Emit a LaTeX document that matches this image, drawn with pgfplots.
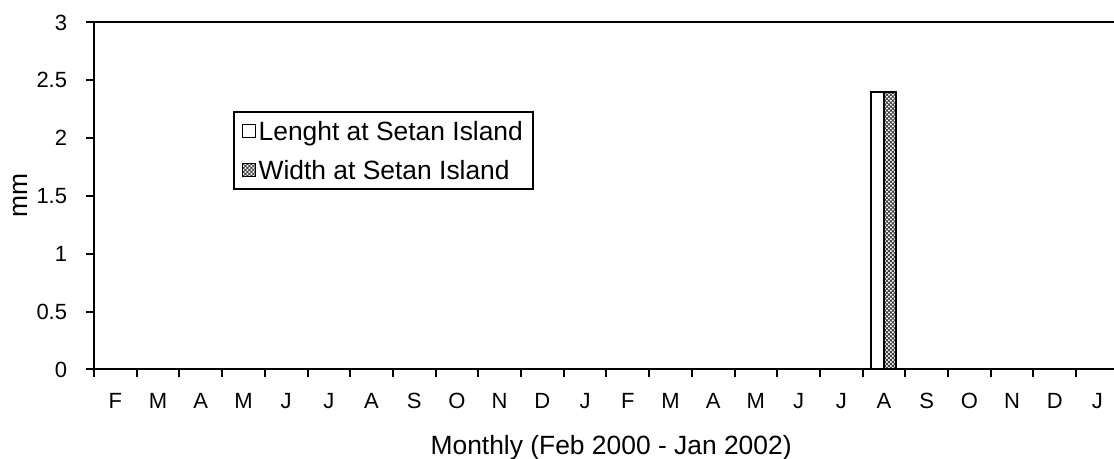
\documentclass[border=0pt]{standalone}
\usepackage{fontspec}
\setmainfont{Liberation Sans}
\usepackage{pgfplots}
\pgfplotsset{compat=1.18}
\usetikzlibrary{patterns.meta}
\newcommand{\ff}{\fontsize{11pt}{13pt}\selectfont}
\newcommand{\fb}{\fontsize{13.2pt}{15.5pt}\selectfont}
\begin{document}
\begin{tikzpicture}
\begin{axis}[
  at={(0pt,0pt)}, anchor=south west,
  scale only axis,
  width=511pt, height=173.5pt,
  xmin=-0.5, xmax=23.434,
  ymin=0, ymax=3,
  axis line style={line width=1pt},
  ybar=0pt, bar width=6.25pt,
  xtick={0,...,23},
  xticklabels={F,M,A,M,J,J,A,S,O,N,D,J,F,M,A,M,J,J,A,S,O,N,D,J},
  minor xtick={-0.5,0.5,...,22.5},
  major x tick style={draw=none},
  minor x tick style={line width=1pt, black},
  minor tick length=4pt,
  xtick pos=bottom,
  ytick={0,0.5,1,1.5,2,2.5,3},
  yticklabels={0,0.5,1,1.5,2,2.5,3},
  ytick pos=left,
  y tick style={line width=1pt, black},
  major tick length=4pt,
  tick align=outside,
  xticklabel style={font=\ff, anchor=center, yshift=-11.75pt},
  yticklabel style={font=\ff, anchor=east, inner sep=0pt, xshift=-9.25pt},
  xlabel={Monthly (Feb 2000 - Jan 2002)},
  ylabel={mm},
  xlabel style={font=\fb, at={(axis description cs:0.506,-0.2255)}, anchor=center},
  ylabel style={font=\fb, at={(axis description cs:-0.0724,0.5)}, anchor=center},
  legend style={
    at={(axis description cs:0.136,0.745)}, anchor=north west,
    draw=black, line width=1pt, font=\fb,
    inner xsep=4pt, inner ysep=3.5pt, row sep=7.5pt,
    nodes={inner xsep=1.25pt, inner ysep=0pt, text height=10.65pt, text depth=1.35pt},
    cells={anchor=west},
  },
  legend image code/.code={\draw[#1, line width=0.6pt] (1pt,-3.25pt) rectangle (7.5pt,3.25pt);},
]
\addplot[draw=black, fill=white, line width=1pt] coordinates {
(0,0) (1,0) (2,0) (3,0) (4,0) (5,0) (6,0) (7,0) (8,0) (9,0) (10,0) (11,0)
(12,0) (13,0) (14,0) (15,0) (16,0) (17,0) (18,2.4) (19,0) (20,0) (21,0) (22,0) (23,0)};
\addlegendentry{Lenght at Setan Island}
\addplot[draw=black, line width=1pt, pattern={Hatch[angle=45,distance=1.4pt,line width=0.45pt]}, pattern color=black!75] coordinates {
(0,0) (1,0) (2,0) (3,0) (4,0) (5,0) (6,0) (7,0) (8,0) (9,0) (10,0) (11,0)
(12,0) (13,0) (14,0) (15,0) (16,0) (17,0) (18,2.4) (19,0) (20,0) (21,0) (22,0) (23,0)};
\addlegendentry{Width at Setan Island}
\end{axis}
\pgfresetboundingbox
\path[use as bounding box] (-47pt,-44.75pt) rectangle (510pt,184.75pt);
\end{tikzpicture}
\end{document}
